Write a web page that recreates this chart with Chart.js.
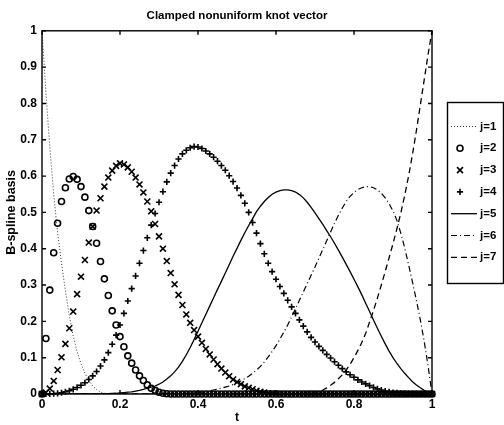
<!DOCTYPE html>
<html>
<head>
<meta charset="utf-8">
<script src="https://cdn.jsdelivr.net/npm/chart.js"></script>
<style>
  html, body { margin: 0; padding: 0; background: #fff; }
  canvas { display: block; }
</style>
</head>
<body>
<canvas id="bspline" width="504" height="425"></canvas>
<script>
// parameter values (t), one sample every 0.01
const t = [0,0.01,0.02,0.03,0.04,0.05,0.06,0.07,0.08,0.09,
  0.1,0.11,0.12,0.13,0.14,0.15,0.16,0.17,0.18,0.19,
  0.2,0.21,0.22,0.23,0.24,0.25,0.26,0.27,0.28,0.29,
  0.3,0.31,0.32,0.33,0.34,0.35,0.36,0.37,0.38,0.39,
  0.4,0.41,0.42,0.43,0.44,0.45,0.46,0.47,0.48,0.49,
  0.5,0.51,0.52,0.53,0.54,0.55,0.56,0.57,0.58,0.59,
  0.6,0.61,0.62,0.63,0.64,0.65,0.66,0.67,0.68,0.69,
  0.7,0.71,0.72,0.73,0.74,0.75,0.76,0.77,0.78,0.79,
  0.8,0.81,0.82,0.83,0.84,0.85,0.86,0.87,0.88,0.89,
  0.9,0.91,0.92,0.93,0.94,0.95,0.96,0.97,0.98,0.99,1];

// basis values
const j1 = [1,0.83,0.68,0.55,0.445,0.36,0.285,0.215,0.16,0.117,
  0.083,0.057,0.037,0.022,0.012,0.005,0.002,0.0004,0,0,
  0,0,0,0,0,0,0,0,0,0, 0,0,0,0,0,0,0,0,0,0,
  0,0,0,0,0,0,0,0,0,0, 0,0,0,0,0,0,0,0,0,0,
  0,0,0,0,0,0,0,0,0,0, 0,0,0,0,0,0,0,0,0,0,
  0,0,0,0,0,0,0,0,0,0, 0,0,0,0,0,0,0,0,0,0, 0];

const j2 = [0,0.153,0.286,0.389,0.47,0.53,0.568,0.592,0.599,0.591,
  0.571,0.542,0.505,0.461,0.415,0.365,0.317,0.271,0.229,0.19,
  0.158,0.13,0.105,0.085,0.066,0.05,0.037,0.025,0.016,0.01,
  0.005,0.002,0.0005,0,0,0,0,0,0,0,
  0,0,0,0,0,0,0,0,0,0, 0,0,0,0,0,0,0,0,0,0,
  0,0,0,0,0,0,0,0,0,0, 0,0,0,0,0,0,0,0,0,0,
  0,0,0,0,0,0,0,0,0,0, 0,0,0,0,0,0,0,0,0,0, 0];

const j3 = [0,0.004,0.015,0.036,0.066,0.101,0.138,0.181,0.227,0.275,
  0.323,0.369,0.417,0.461,0.505,0.539,0.571,0.596,0.615,0.628,
  0.635,0.632,0.624,0.612,0.596,0.577,0.555,0.53,0.503,0.468,
  0.434,0.4,0.366,0.333,0.302,0.273,0.245,0.219,0.196,0.176,
  0.158,0.141,0.124,0.109,0.095,0.082,0.07,0.059,0.049,0.04,
  0.033,0.027,0.021,0.017,0.013,0.009,0.006,0.004,0.002,0.001,
  0.0003,0.0001,0,0,0,0,0,0,0,0,
  0,0,0,0,0,0,0,0,0,0, 0,0,0,0,0,0,0,0,0,0,
  0,0,0,0,0,0,0,0,0,0, 0];

const j4 = [0,0,0.0002,0.0008,0.0018,0.0035,0.006,0.009,0.013,0.018,
  0.024,0.031,0.04,0.05,0.062,0.077,0.094,0.114,0.137,0.162,
  0.19,0.222,0.256,0.29,0.325,0.36,0.395,0.43,0.465,0.497,
  0.528,0.557,0.584,0.608,0.629,0.647,0.661,0.671,0.678,0.681,
  0.68,0.676,0.669,0.661,0.652,0.641,0.629,0.616,0.601,0.585,
  0.567,0.547,0.525,0.5,0.472,0.443,0.414,0.386,0.36,0.337,
  0.316,0.296,0.277,0.258,0.24,0.222,0.204,0.187,0.171,0.156,
  0.143,0.131,0.12,0.109,0.099,0.089,0.079,0.07,0.061,0.053,
  0.046,0.039,0.033,0.028,0.023,0.018,0.014,0.011,0.008,0.006,
  0.004,0.003,0.002,0.001,0.0006,0.0003,0.0001,0,0,0, 0];

const j5 = [0,0,0,0,0,0,0,0,0,0,
  0,0,0,0,0,0.0002,0.0005,0.001,0.0015,0.002,
  0.003,0.004,0.005,0.006,0.008,0.01,0.013,0.016,0.019,0.022,
  0.027,0.033,0.041,0.05,0.061,0.074,0.09,0.108,0.128,0.15,
  0.173,0.196,0.219,0.242,0.265,0.288,0.31,0.333,0.356,0.379,
  0.401,0.423,0.444,0.464,0.483,0.502,0.517,0.53,0.541,0.55,
  0.556,0.56,0.562,0.562,0.56,0.556,0.549,0.54,0.528,0.514,
  0.499,0.483,0.467,0.45,0.433,0.415,0.396,0.377,0.357,0.337,
  0.316,0.295,0.273,0.25,0.227,0.204,0.181,0.159,0.138,0.118,
  0.1,0.084,0.07,0.057,0.045,0.034,0.025,0.017,0.01,0.004, 0];

const j6 = [0,0,0,0,0,0,0,0,0,0,
  0,0,0,0,0,0,0,0,0,0, 0,0,0,0,0,0,0,0,0,0,
  0,0,0.0001,0.0002,0.0004,0.0007,0.001,0.0015,0.002,0.003,
  0.004,0.005,0.007,0.009,0.011,0.013,0.016,0.019,0.022,0.026,
  0.031,0.036,0.042,0.049,0.057,0.066,0.076,0.088,0.102,0.117,
  0.133,0.151,0.17,0.19,0.212,0.235,0.258,0.281,0.304,0.327,
  0.35,0.374,0.398,0.422,0.446,0.47,0.492,0.512,0.53,0.544,
  0.555,0.563,0.568,0.571,0.571,0.568,0.562,0.553,0.54,0.524,
  0.504,0.478,0.443,0.402,0.356,0.308,0.258,0.205,0.145,0.077, 0];

const j7 = [0,0,0,0,0,0,0,0,0,0,
  0,0,0,0,0,0,0,0,0,0, 0,0,0,0,0,0,0,0,0,0,
  0,0,0,0,0,0,0,0,0,0, 0,0,0,0,0,0,0,0,0,0,
  0,0,0,0,0,0,0,0,0,0,
  0,0,0,0.0001,0.0003,0.0005,0.0009,0.0015,0.0023,0.003,
  0.0045,0.007,0.011,0.017,0.024,0.032,0.042,0.053,0.066,0.082,
  0.1,0.12,0.142,0.167,0.198,0.23,0.264,0.3,0.337,0.375,
  0.414,0.455,0.498,0.547,0.6,0.66,0.725,0.795,0.865,0.935, 1];

const labels = ["j=1", "j=2", "j=3", "j=4", "j=5", "j=6", "j=7"];
const xTicks = [0, 0.2, 0.4, 0.6, 0.8, 1];

const FONT = "'Liberation Sans', Arial, Helvetica, sans-serif";

function pts(vals) {
  return t.map((x, i) => ({ x: x, y: vals[i] }));
}

function lineSet(label, vals, dash, width, color) {
  return {
    label: label, data: pts(vals), borderColor: color, borderWidth: width,
    borderDash: dash, pointRadius: 0, fill: false, tension: 0
  };
}

function markSet(label, vals, style, radius) {
  return {
    label: label, data: pts(vals), showLine: false, clip: false,
    pointStyle: style, pointRadius: radius, pointBorderWidth: 1.6,
    pointBorderColor: "#000", pointBackgroundColor: "rgba(0,0,0,0)",
    borderColor: "#000"
  };
}

const datasets = [
  lineSet(labels[0], j1, [1, 2], 1, "#333"),
  markSet(labels[1], j2, "circle", 3),
  markSet(labels[2], j3, "crossRot", 4.2),
  markSet(labels[3], j4, "cross", 3.1),
  lineSet(labels[4], j5, [], 1.3, "#000"),
  lineSet(labels[5], j6, [6, 3, 1, 3], 1.2, "#000"),
  lineSet(labels[6], j7, [6, 4], 1.3, "#000")
];

// box + inward ticks, like the original figure
const frame = {
  id: "frame",
  afterDatasetsDraw(chart) {
    const { ctx, chartArea: a, scales } = chart;
    ctx.save();
    ctx.strokeStyle = "#000";
    ctx.lineWidth = 1.4;
    ctx.setLineDash([]);
    ctx.strokeRect(a.left, a.top, a.right - a.left, a.bottom - a.top);
    ctx.beginPath();
    scales.x.ticks.forEach(tk => {
      const px = scales.x.getPixelForValue(tk.value);
      ctx.moveTo(px, a.bottom); ctx.lineTo(px, a.bottom - 4);
      ctx.moveTo(px, a.top); ctx.lineTo(px, a.top + 4);
    });
    scales.y.ticks.forEach(tk => {
      const py = scales.y.getPixelForValue(tk.value);
      ctx.moveTo(a.left, py); ctx.lineTo(a.left + 4, py);
      ctx.moveTo(a.right, py); ctx.lineTo(a.right - 4, py);
    });
    ctx.stroke();
    ctx.restore();
  }
};

// boxed legend at the right
const sideLegend = {
  id: "sideLegend",
  afterDraw(chart) {
    const ctx = chart.ctx;
    ctx.save();
    ctx.strokeStyle = "#000";
    ctx.lineWidth = 1.4;
    ctx.setLineDash([]);
    ctx.strokeRect(447.5, 102.5, 56, 181);
    chart.data.datasets.forEach((ds, i) => {
      const y = 126.5 + i * 21.8;
      ctx.save();
      ctx.strokeStyle = ds.borderColor;
      if (ds.showLine === false) {
        ctx.fillStyle = "rgba(0,0,0,0)";
        ctx.lineWidth = ds.pointBorderWidth;
        ctx.setLineDash([]);
        Chart.helpers.drawPoint(ctx, {
          pointStyle: ds.pointStyle, radius: ds.pointRadius,
          borderWidth: ds.pointBorderWidth, rotation: 0
        }, 460, y);
      } else {
        ctx.lineWidth = ds.borderWidth;
        ctx.setLineDash(ds.borderDash);
        ctx.beginPath();
        ctx.moveTo(451, y);
        ctx.lineTo(477, y);
        ctx.stroke();
      }
      ctx.restore();
      ctx.fillStyle = "#000";
      ctx.font = "bold 11.5px " + FONT;
      ctx.textBaseline = "middle";
      ctx.textAlign = "left";
      ctx.fillText(ds.label, 480, y);
    });
    ctx.restore();
  }
};

const canvas = document.getElementById("bspline");
new Chart(canvas, {
  type: "line",
  data: { datasets: datasets },
  options: {
    responsive: false,
    animation: false,
    events: [],
    layout: { padding: { left: 0, right: 72, top: 0, bottom: 0 } },
    plugins: {
      legend: { display: false },
      tooltip: { enabled: false },
      title: {
        display: true,
        fullSize: false,
        text: "Clamped nonuniform knot vector",
        color: "#000",
        font: { family: FONT, size: 11.5, weight: "bold" },
        padding: { top: 9, bottom: 8 }
      }
    },
    scales: {
      x: {
        type: "linear",
        min: 0,
        max: 1,
        afterBuildTicks: s => { s.ticks = xTicks.map(v => ({ value: v })); },
        ticks: {
          color: "#000",
          padding: 3,
          maxRotation: 0,
          font: { family: FONT, size: 12, weight: "bold" },
          callback: v => String(Math.round(v * 10) / 10)
        },
        grid: { display: false, drawTicks: false },
        border: { display: false },
        title: {
          display: true, text: "t", color: "#000",
          font: { family: FONT, size: 12, weight: "bold" },
          padding: { top: 0, bottom: 0 }
        },
        afterFit: s => { s.height = 31; }
      },
      y: {
        min: 0,
        max: 1,
        ticks: {
          stepSize: 0.1,
          color: "#000",
          padding: 5,
          font: { family: FONT, size: 12, weight: "bold" },
          callback: v => String(Math.round(v * 10) / 10)
        },
        grid: { display: false, drawTicks: false },
        border: { display: false },
        title: {
          display: true, text: "B-spline basis", color: "#000",
          font: { family: FONT, size: 12.5, weight: "bold" },
          padding: { top: 4.5, bottom: 0 }
        },
        afterFit: s => { s.width = 42; }
      }
    }
  },
  plugins: [frame, sideLegend]
});
</script>
</body>
</html>
